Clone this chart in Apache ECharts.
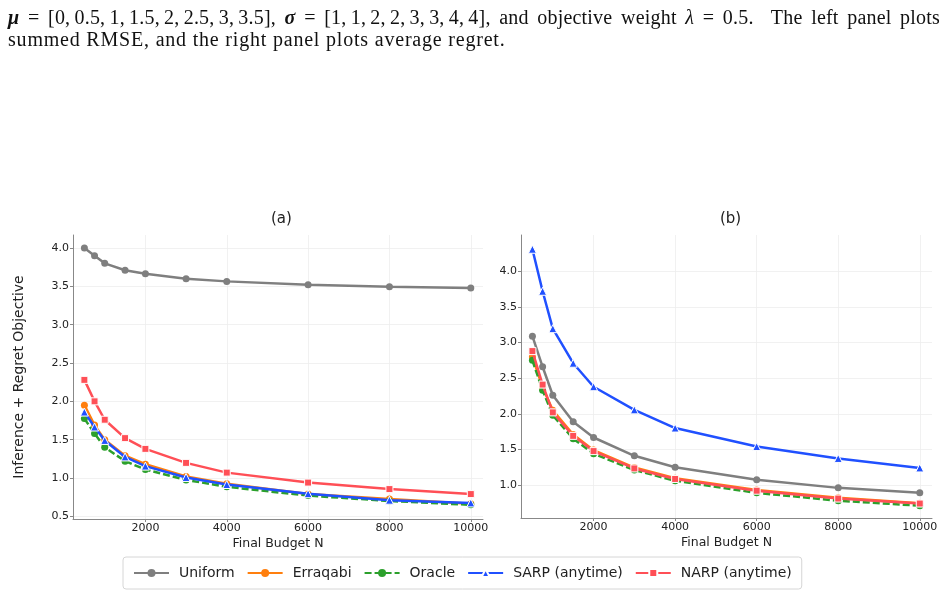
<!DOCTYPE html>
<html>
<head>
<meta charset="utf-8">
<script src="https://cdn.jsdelivr.net/npm/echarts@6/dist/echarts.min.js"></script>
<style>
  html, body { margin: 0; padding: 0; background: #fff; }
  #cap { position: absolute; left: 8px; top: 6px; width: 932px; font-family: "Liberation Serif", "DejaVu Serif", serif; font-size: 20px; letter-spacing: 0.8px; color: #111; line-height: 22px; }
  #cap .l1 { text-align: justify; text-align-last: justify; white-space: nowrap; letter-spacing: 0.2px; }
  #cap b { font-style: italic; }
  #chart { position: absolute; left: 0; top: 0; width: 947px; height: 597px; }
</style>
</head>
<body>
<div id="chart"></div>
<div id="cap">
  <div class="l1"><b>μ</b> = [0,&thinsp;0.5,&thinsp;1,&thinsp;1.5,&thinsp;2,&thinsp;2.5,&thinsp;3,&thinsp;3.5], <b>σ</b> = [1,&thinsp;1,&thinsp;2,&thinsp;2,&thinsp;3,&thinsp;3,&thinsp;4,&thinsp;4], and objective weight <i>λ</i> = 0.5. &nbsp;The left panel plots</div>
  <div>summed RMSE, and the right panel plots average regret.</div>
</div>
<script>
// budgets on the x axis
var budgets = [500, 750, 1000, 1500, 2000, 3000, 4000, 6000, 8000, 10000];
var xTicks = [2000, 4000, 6000, 8000, 10000];
var yTicksA = [0.5, 1.0, 1.5, 2.0, 2.5, 3.0, 3.5, 4.0];
var yTicksB = [1.0, 1.5, 2.0, 2.5, 3.0, 3.5, 4.0];

// (a) summed RMSE
var uniformA  = [4.00, 3.90, 3.80, 3.71, 3.665, 3.60, 3.565, 3.52, 3.495, 3.48];
var erraqabiA = [1.95, 1.69, 1.50, 1.29, 1.18, 1.02, 0.925, 0.79, 0.725, 0.665];
var oracleA   = [1.775, 1.58, 1.40, 1.22, 1.11, 0.975, 0.885, 0.77, 0.70, 0.65];
var sarpA     = [1.86, 1.665, 1.49, 1.275, 1.155, 1.007, 0.915, 0.795, 0.71, 0.675];
var narpA     = [2.28, 2.00, 1.76, 1.52, 1.38, 1.197, 1.07, 0.94, 0.855, 0.79];

// (b) average regret
var uniformB  = [3.09, 2.66, 2.26, 1.887, 1.667, 1.41, 1.25, 1.075, 0.96, 0.89];
var erraqabiB = [2.80, 2.37, 2.05, 1.71, 1.49, 1.245, 1.095, 0.93, 0.82, 0.745];
var oracleB   = [2.75, 2.33, 1.98, 1.65, 1.44, 1.21, 1.06, 0.89, 0.78, 0.71];
var sarpB     = [4.31, 3.72, 3.195, 2.71, 2.38, 2.055, 1.80, 1.54, 1.373, 1.24];
var narpB     = [2.88, 2.41, 2.02, 1.69, 1.476, 1.233, 1.085, 0.92, 0.81, 0.74];

var names = ['Uniform', 'Erraqabi', 'Oracle', 'SARP (anytime)', 'NARP (anytime)'];
var colors = ['#7f7f7f', '#ff7f0e', '#2ca02c', '#2050ff', '#ff4f56'];
var symbols = ['circle', 'circle', 'circle', 'triangle', 'rect'];
var dataA = [uniformA, erraqabiA, oracleA, sarpA, narpA];
var dataB = [uniformB, erraqabiB, oracleB, sarpB, narpB];

function pairs(ys) {
  return budgets.map(function (x, i) { return [x, ys[i]]; });
}

var font = 'DejaVu Sans';
function xAxis(idx) {
  return {
    type: 'value', gridIndex: idx, min: 220, max: 10300,
    name: 'Final Budget N', nameLocation: 'middle', nameGap: 18,
    nameTextStyle: { fontFamily: font, fontSize: 12.5, color: '#222' },
    axisLine: { lineStyle: { color: '#888', width: 1 } },
    axisTick: { customValues: xTicks, length: 3, lineStyle: { color: '#888' } },
    axisLabel: { customValues: xTicks, fontFamily: font, fontSize: 11, color: '#222', margin: 4,
      formatter: function (v) { return String(v); } },
    splitLine: { show: true, lineStyle: { color: '#eeeeee', width: 0.8 } }
  };
}
function yAxis(idx, min, max, ticks, label) {
  return {
    type: 'value', gridIndex: idx, min: min, max: max,
    name: label, nameLocation: 'middle', nameGap: 47,
    nameTextStyle: { fontFamily: font, fontSize: 14, color: '#222' },
    axisLine: { show: true, lineStyle: { color: '#888', width: 1 } },
    axisTick: { show: true, customValues: ticks, length: 3, lineStyle: { color: '#888' } },
    axisLabel: { customValues: ticks, fontFamily: font, fontSize: 11, color: '#222', margin: 4,
      formatter: function (v) { return v.toFixed(1); } },
    splitLine: { show: true, lineStyle: { color: '#eeeeee', width: 0.8 } }
  };
}

var series = [];
[dataA, dataB].forEach(function (set, g) {
  set.forEach(function (ys, k) {
    series.push({
      name: names[k], type: 'line', xAxisIndex: g, yAxisIndex: g,
      data: pairs(ys), symbol: symbols[k],
      symbolSize: k === 3 ? 8 : 7,
      showSymbol: true,
      z: [2, 3, 4, 5, 6][k],
      lineStyle: { color: colors[k], width: 2.5, type: k === 2 ? [7, 3] : 'solid' },
      itemStyle: { color: colors[k], borderColor: k >= 3 ? '#fff' : colors[k], borderWidth: k >= 3 ? 1 : 0 }
    });
  });
});

var chart = echarts.init(document.getElementById('chart'));
chart.setOption({
  animation: false,
  title: [
    { text: '(a)', left: 266, top: 207, textStyle: { fontFamily: font, fontSize: 15, fontWeight: 'normal', color: '#222' } },
    { text: '(b)', left: 715, top: 207, textStyle: { fontFamily: font, fontSize: 15, fontWeight: 'normal', color: '#222' } }
  ],
  grid: [
    { left: 73, top: 235, width: 410, height: 284 },
    { left: 521, top: 235, width: 411, height: 283 }
  ],
  xAxis: [xAxis(0), xAxis(1)],
  yAxis: [
    yAxis(0, 0.465, 4.17, yTicksA, 'Inference + Regret Objective'),
    yAxis(1, 0.537, 4.51, yTicksB, '')
  ],
  legend: {
    data: names, left: 123, top: 557, itemWidth: 35, itemHeight: 10, itemGap: 12,
    padding: [9, 10, 9, 10],
    borderColor: '#d6d6d6', borderWidth: 1, borderRadius: 3,
    textStyle: { fontFamily: font, fontSize: 14, color: '#222', padding: [0, 0, 0, 5] }
  },
  series: series
});
</script>
</body>
</html>
